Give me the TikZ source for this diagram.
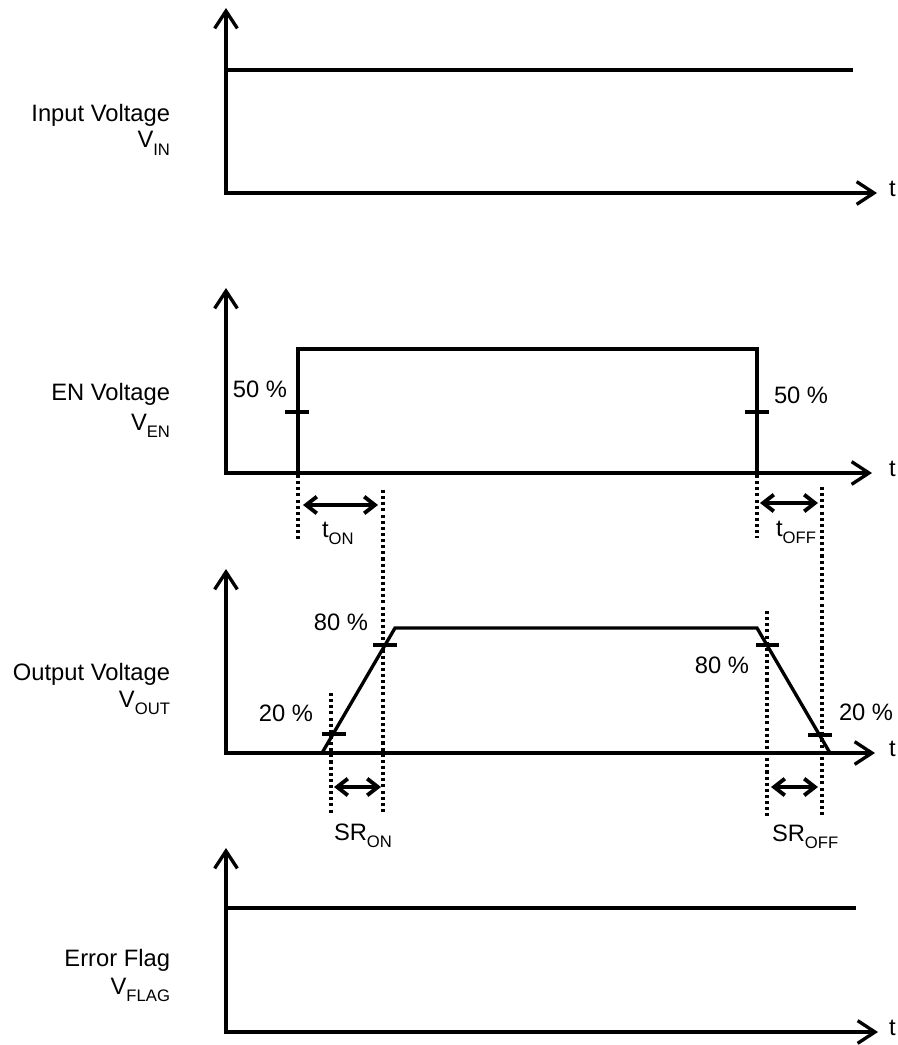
\documentclass[tikz,border=0pt]{standalone}
\usepackage{fontspec}
\setmainfont{Liberation Sans}
\usetikzlibrary{arrows.meta}
\newcommand{\lowsub}[1]{\raisebox{-5.5pt}{\fontsize{12.5pt}{13pt}\selectfont #1}}
\tikzset{
  wave/.style={line width=2.5pt, line join=miter},
  axis/.style={line width=2.5pt, {Straight Barb[length=13pt,width=17pt]}-{Straight Barb[length=13pt,width=17pt]}},
  dots/.style={line width=2.6pt, dash pattern=on 2.3pt off 2.3pt},
  meas/.style={line width=2.9pt, {Straight Barb[length=8pt,width=12.5pt]}-{Straight Barb[length=8pt,width=12.5pt]}},
  tickmark/.style={line width=3.2pt},
  lbl/.style={inner sep=0pt, outer sep=0pt}
}
\begin{document}
\begin{tikzpicture}[x=0.75pt,y=-0.75pt,font=\fontsize{17.8pt}{20pt}\selectfont]
\useasboundingbox (0,0) rectangle (897,1045);

% ---------- Panel 1: Input voltage ----------
\coordinate (o1) at (226,193);
\coordinate (y1) at (226,8);
\coordinate (x1) at (877,193);
\coordinate (l1a) at (226,70);
\coordinate (l1b) at (853,70);
\draw[axis] (y1) -- (o1) -- (x1);
\draw[wave] (l1a) -- (l1b);
\node[lbl, anchor=base west] (t1) at (889,196) {t};
\node[lbl, anchor=base east] (n1a) at (170,122) {Input Voltage};
\node[lbl, anchor=base east] (n1b) at (170,148) {V\lowsub{IN}};

% ---------- Panel 2: EN voltage ----------
\coordinate (o2) at (226,473);
\coordinate (y2) at (226,288);
\coordinate (x2) at (872,473);
\draw[axis] (y2) -- (o2) -- (x2);
\coordinate (e1) at (298,473);
\coordinate (e2) at (298,349);
\coordinate (e3) at (757,349);
\coordinate (e4) at (757,473);
\draw[wave] (e1) -- (e2) -- (e3) -- (e4);
\coordinate (k1a) at (285,412); \coordinate (k1b) at (309,412);
\coordinate (k2a) at (745,412); \coordinate (k2b) at (769,412);
\draw[tickmark] (k1a) -- (k1b);
\draw[tickmark] (k2a) -- (k2b);
\node[lbl, anchor=base east] (p50a) at (287,397) {50 \%};
\node[lbl, anchor=base west] (p50b) at (774,403) {50 \%};
\node[lbl, anchor=base west] (t2) at (889,476) {t};
\node[lbl, anchor=base east] (n2a) at (170,400) {EN Voltage};
\node[lbl, anchor=base east] (n2b) at (170,430) {V\lowsub{EN}};

% dotted guides
\coordinate (d1a) at (298,475); \coordinate (d1b) at (298,539);
\coordinate (d2a) at (383,490); \coordinate (d2b) at (383,815);
\coordinate (d3a) at (757,475); \coordinate (d3b) at (757,538);
\coordinate (d4a) at (822,487); \coordinate (d4b) at (822,817);
\draw[dots] (d1a) -- (d1b);
\draw[dots] (d2a) -- (d2b);
\draw[dots] (d3a) -- (d3b);
\draw[dots] (d4a) -- (d4b);

% t_on / t_off
\coordinate (a1a) at (303,505); \coordinate (a1b) at (378,505);
\coordinate (a2a) at (760,503); \coordinate (a2b) at (818,503);
\draw[meas] (a1a) -- (a1b);
\draw[meas] (a2a) -- (a2b);
\node[lbl, anchor=base west] (ton) at (322,537) {t\lowsub{ON}};
\node[lbl, anchor=base west] (toff) at (776,536) {t\lowsub{OFF}};

% ---------- Panel 3: Output voltage ----------
\coordinate (o3) at (226,753);
\coordinate (y3) at (226,569);
\coordinate (x3) at (875,753);
\draw[axis] (y3) -- (o3) -- (x3);
\coordinate (r1) at (322,753);
\coordinate (r2) at (395,628);
\coordinate (r3) at (757,628);
\coordinate (r4) at (830,753);
\draw[wave] (r1) -- (r2) -- (r3) -- (r4);
\coordinate (k3a) at (322,734); \coordinate (k3b) at (346,734);
\coordinate (k4a) at (373,645); \coordinate (k4b) at (397,645);
\coordinate (k5a) at (756,645); \coordinate (k5b) at (779,645);
\coordinate (k6a) at (808,735); \coordinate (k6b) at (832,735);
\draw[tickmark] (k3a) -- (k3b);
\draw[tickmark] (k4a) -- (k4b);
\draw[tickmark] (k5a) -- (k5b);
\draw[tickmark] (k6a) -- (k6b);
\coordinate (d5a) at (331,693); \coordinate (d5b) at (331,815);
\coordinate (d6a) at (767,611); \coordinate (d6b) at (767,818);
\draw[dots] (d5a) -- (d5b);
\draw[dots] (d6a) -- (d6b);
\node[lbl, anchor=base east] (p80a) at (368,630) {80 \%};
\node[lbl, anchor=base east] (p20a) at (313,721) {20 \%};
\node[lbl, anchor=base east] (p80b) at (749,673) {80 \%};
\node[lbl, anchor=base west] (p20b) at (839,720) {20 \%};
\node[lbl, anchor=base west] (t3) at (889,756) {t};
\node[lbl, anchor=base east] (n3a) at (170,680) {Output Voltage};
\node[lbl, anchor=base east] (n3b) at (170,707) {V\lowsub{OUT}};
\coordinate (a3a) at (334,787); \coordinate (a3b) at (381,787);
\coordinate (a4a) at (771,787); \coordinate (a4b) at (818,787);
\draw[meas] (a3a) -- (a3b);
\draw[meas] (a4a) -- (a4b);
\node[lbl, anchor=base west] (sron) at (334,840) {SR\lowsub{ON}};
\node[lbl, anchor=base west] (sroff) at (772,841) {SR\lowsub{OFF}};

% ---------- Panel 4: Error flag ----------
\coordinate (o4) at (226,1032);
\coordinate (y4) at (226,848);
\coordinate (x4) at (878,1032);
\draw[axis] (y4) -- (o4) -- (x4);
\coordinate (l4a) at (226,908);
\coordinate (l4b) at (856,908);
\draw[wave] (l4a) -- (l4b);
\node[lbl, anchor=base west] (t4) at (889,1035) {t};
\node[lbl, anchor=base east] (n4a) at (170,966) {Error Flag};
\node[lbl, anchor=base east] (n4b) at (170,994) {V\lowsub{FLAG}};
\end{tikzpicture}
\end{document}
